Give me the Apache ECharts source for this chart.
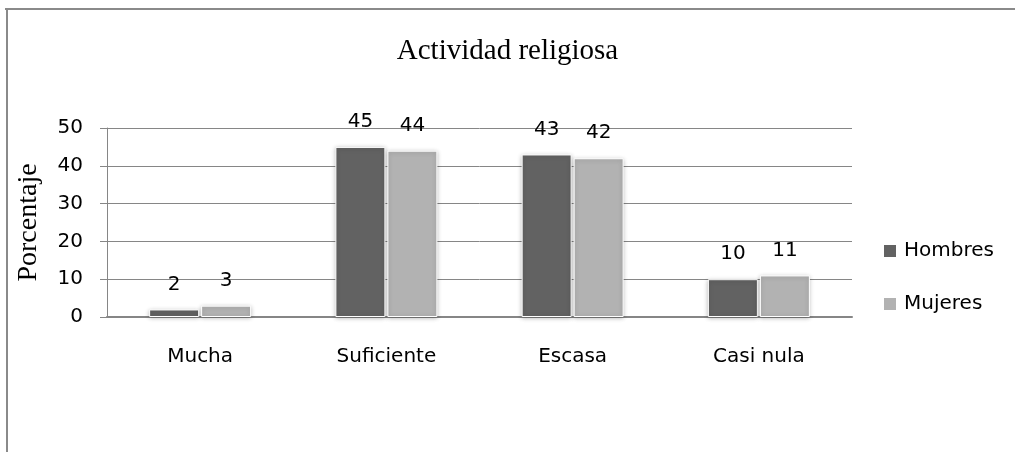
<!DOCTYPE html>
<html>
<head>
<meta charset="utf-8">
<script src="https://cdn.jsdelivr.net/npm/echarts@6/dist/echarts.min.js"></script>
<style>
  html, body { margin: 0; padding: 0; background: #fff; }
</style>
</head>
<body>
<div id="main" style="width: 1015px;height:452px;"></div>
<script>
// datos
var categorias = ['Mucha', 'Suficiente', 'Escasa', 'Casi nula'];
var hombres = [2, 45, 43, 10];
var mujeres = [3, 44, 42, 11];
var yTicks = [0, 10, 20, 30, 40, 50];

var myChart = echarts.init(document.getElementById('main'));

var sans = 'DejaVu Sans, sans-serif';

var labelStyle = {
    show: true,
    position: 'top',
    distance: 15,
    color: '#000',
    fontSize: 20,
    fontFamily: sans
};

myChart.setOption({
    animation: false,
    backgroundColor: '#fff',
    title: {
        text: 'Actividad religiosa',
        left: 'center',
        top: 32,
        textStyle: {
            fontFamily: 'Liberation Serif, serif',
            fontWeight: 'normal',
            fontSize: 29,
            color: '#000'
        }
    },
    // marco del grafico
    graphic: [
        { type: 'line', shape: { x1: 5, y1: 9, x2: 1015, y2: 9 }, style: { stroke: '#8a8a8a', lineWidth: 2 } },
        { type: 'line', shape: { x1: 7, y1: 8, x2: 7, y2: 452 }, style: { stroke: '#8a8a8a', lineWidth: 2 } }
    ],
    legend: {
        orient: 'vertical',
        left: 877,
        top: 236,
        itemWidth: 14,
        itemHeight: 14,
        itemGap: 33,
        icon: 'rect',
        textStyle: {
            fontSize: 20,
            color: '#000',
            fontFamily: sans,
            padding: [0, 0, 0, 2]
        },
        data: ['Hombres', 'Mujeres']
    },
    grid: {
        left: 107,
        right: 163,
        top: 128,
        bottom: 135,
        containLabel: false
    },
    xAxis: {
        type: 'category',
        data: categorias,
        axisLine: { lineStyle: { color: '#868686', width: 2 } },
        axisTick: { show: false },
        axisLabel: {
            margin: 30,
            fontSize: 20,
            color: '#000',
            fontFamily: sans
        }
    },
    yAxis: {
        type: 'value',
        min: yTicks[0],
        max: yTicks[yTicks.length - 1],
        interval: 10,
        name: 'Porcentaje',
        nameLocation: 'middle',
        nameGap: 64,
        nameTextStyle: {
            fontFamily: 'Liberation Serif, serif',
            fontSize: 28,
            color: '#000'
        },
        axisLine: { show: true, lineStyle: { color: '#868686', width: 1 } },
        axisTick: { show: true, length: 7, lineStyle: { color: '#868686' } },
        axisLabel: {
            margin: 24,
            fontSize: 20,
            color: '#000',
            fontFamily: sans
        },
        splitLine: { lineStyle: { color: '#868686', width: 1 } }
    },
    series: [
        {
            name: 'Hombres',
            type: 'bar',
            barWidth: 50,
            barGap: '4%',
            itemStyle: {
                color: '#626262',
                borderColor: '#fff',
                borderWidth: 1,
                shadowColor: 'rgba(0,0,0,0.25)',
                shadowBlur: 4,
                shadowOffsetY: 1
            },
            label: labelStyle,
            data: hombres
        },
        {
            name: 'Mujeres',
            type: 'bar',
            barWidth: 50,
            itemStyle: {
                color: '#b2b2b2',
                borderColor: '#fff',
                borderWidth: 1,
                shadowColor: 'rgba(0,0,0,0.25)',
                shadowBlur: 4,
                shadowOffsetY: 1
            },
            label: labelStyle,
            data: mujeres
        }
    ]
});
</script>
</body>
</html>
